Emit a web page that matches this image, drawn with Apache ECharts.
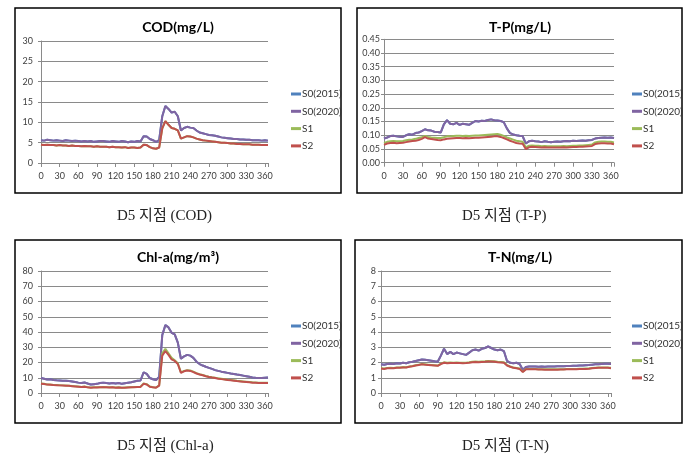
<!DOCTYPE html>
<html>
<head>
<meta charset="utf-8">
<script src="https://cdn.jsdelivr.net/npm/echarts@6/dist/echarts.min.js"></script>
<style>
html,body{margin:0;padding:0;background:#fff;}
#c{width:696px;height:467px;}
</style>
</head>
<body>
<div id="c"></div>
<script>
// ---------- DATA (day of year, 5-day readings) ----------
const days = Array.from({length: 74}, (_, i) => i * 5);
const seriesNames = ['S0(2015)', 'S0(2020)', 'S1', 'S2'];
const xTicks = [0, 30, 60, 90, 120, 150, 180, 210, 240, 270, 300, 330, 360];

// COD (mg/L)
const codS0_2015 = [5.6,5.5,5.7,5.6,5.5,5.6,5.5,5.4,5.6,5.5, 5.4,5.5,5.4,5.3,5.4,5.3,5.4,5.2,5.3,5.4, 5.4,5.3,5.2,5.4,5.3,5.2,5.4,5.3,5.1,5.3, 5.2,5.4,5.3,6.6,6.5,5.9,5.6,5.2,5.6,11.5, 14.0,13.3,12.4,12.6,11.5,8.0,8.6,8.9,8.7,8.6, 8.0,7.5,7.3,7.1,6.9,6.8,6.7,6.5,6.3,6.2, 6.1,6.0,5.9,5.9,5.8,5.8,5.7,5.7,5.6,5.6, 5.6,5.5,5.6,5.5];
const codS0_2020 = [5.6,5.5,5.7,5.6,5.5,5.6,5.5,5.4,5.6,5.5, 5.4,5.5,5.4,5.3,5.4,5.3,5.4,5.2,5.3,5.4, 5.4,5.3,5.2,5.4,5.3,5.2,5.4,5.3,5.1,5.3, 5.2,5.4,5.3,6.6,6.5,5.9,5.6,5.2,5.6,11.5, 14.0,13.3,12.4,12.6,11.5,8.0,8.6,8.9,8.7,8.6, 8.0,7.5,7.3,7.1,6.9,6.8,6.7,6.5,6.3,6.2, 6.1,6.0,5.9,5.9,5.8,5.8,5.7,5.7,5.6,5.6, 5.6,5.5,5.6,5.5];
const codS1 = [4.5,4.4,4.5,4.4,4.4,4.3,4.4,4.3,4.3,4.2, 4.3,4.2,4.2,4.1,4.2,4.1,4.1,4.0,4.1,4.0, 4.0,4.0,3.9,4.0,3.9,3.9,3.8,3.9,3.7,3.8, 3.8,3.7,3.8,4.5,4.4,3.9,3.6,3.5,3.8,8.5, 10.3,9.4,8.6,8.4,8.0,6.0,6.3,6.6,6.5,6.3, 6.0,5.8,5.6,5.5,5.4,5.3,5.2,5.1,5.0,5.0, 4.9,4.8,4.8,4.7,4.7,4.6,4.6,4.6,4.5,4.5, 4.5,4.4,4.4,4.4];
const codS2 = [4.5,4.4,4.5,4.4,4.4,4.3,4.4,4.3,4.3,4.2, 4.3,4.2,4.2,4.1,4.2,4.1,4.1,4.0,4.1,4.0, 4.0,4.0,3.9,4.0,3.9,3.9,3.8,3.9,3.7,3.8, 3.8,3.7,3.8,4.5,4.4,3.9,3.6,3.5,3.8,8.5, 10.3,9.4,8.6,8.4,8.0,6.0,6.3,6.6,6.5,6.3, 6.0,5.8,5.6,5.5,5.4,5.3,5.2,5.1,5.0,5.0, 4.9,4.8,4.8,4.7,4.7,4.6,4.6,4.6,4.5,4.5, 4.5,4.4,4.4,4.4];

// T-P (mg/L)
const tpS0_2015 = [.088,.092,.097,.098,.096,.095,.094,.100,.104,.102, .108,.110,.115,.122,.118,.117,.113,.112,.110,.140, .155,.142,.140,.145,.138,.142,.140,.138,.145,.152, .150,.153,.152,.156,.158,.155,.154,.152,.148,.125, .108,.103,.100,.098,.097,.070,.078,.080,.078,.077, .075,.078,.076,.075,.076,.077,.076,.078,.079,.078, .080,.079,.080,.081,.080,.082,.083,.088,.090,.091, .092,.091,.092,.090];
const tpS0_2020 = [.088,.092,.097,.098,.096,.095,.094,.100,.104,.102, .108,.110,.115,.122,.118,.117,.113,.112,.110,.140, .155,.142,.140,.145,.138,.142,.140,.138,.145,.152, .150,.153,.152,.156,.158,.155,.154,.152,.148,.125, .108,.103,.100,.098,.097,.070,.078,.080,.078,.077, .075,.078,.076,.075,.076,.077,.076,.078,.079,.078, .080,.079,.080,.081,.080,.082,.083,.088,.090,.091, .092,.091,.092,.090];
const tpS1 = [.072,.076,.078,.079,.078,.078,.079,.082,.084,.085, .087,.090,.093,.098,.094,.092,.091,.090,.090,.093, .096,.096,.097,.098,.098,.097,.098,.097,.098,.099, .099,.100,.101,.102,.103,.104,.105,.102,.098,.092, .088,.084,.080,.078,.076,.056,.062,.063,.062,.062, .060,.061,.060,.060,.060,.060,.060,.061,.060,.061, .062,.062,.063,.063,.064,.065,.066,.074,.076,.077, .077,.076,.076,.074];
const tpS2 = [.065,.070,.072,.073,.071,.072,.073,.075,.077,.079, .080,.083,.087,.093,.088,.086,.085,.083,.082,.085, .087,.088,.089,.090,.090,.089,.090,.089,.090,.091, .091,.092,.093,.094,.095,.096,.096,.094,.090,.085, .080,.076,.072,.070,.069,.050,.056,.058,.057,.056, .055,.056,.055,.055,.055,.055,.055,.056,.055,.056, .057,.057,.058,.058,.059,.060,.061,.068,.070,.071, .071,.070,.070,.067];

// Chl-a (mg/m3)
const chlS0_2015 = [9.8,9.3,8.8,9.0,8.5,8.3,8.2,8.0,8.1,7.8, 7.6,7.2,6.8,6.5,6.9,6.2,5.6,5.8,6.0,6.5, 6.8,6.5,6.3,6.6,6.2,6.5,6.0,6.4,6.8,7.0, 7.5,8.0,8.2,13.5,12.5,9.8,9.0,8.5,10.5,38.0, 44.5,43.0,39.5,38.5,33.0,22.5,24.0,25.0,24.5,23.0, 20.5,19.0,18.0,17.2,16.5,15.8,15.0,14.5,14.0,13.6, 13.2,12.8,12.5,12.1,11.8,11.4,11.0,10.6,10.2,10.0, 9.9,9.8,10.0,10.2];
const chlS0_2020 = [9.8,9.3,8.8,9.0,8.5,8.3,8.2,8.0,8.1,7.8, 7.6,7.2,6.8,6.5,6.9,6.2,5.6,5.8,6.0,6.5, 6.8,6.5,6.3,6.6,6.2,6.5,6.0,6.4,6.8,7.0, 7.5,8.0,8.2,13.5,12.5,9.8,9.0,8.5,10.5,38.0, 44.5,43.0,39.5,38.5,33.0,22.5,24.0,25.0,24.5,23.0, 20.5,19.0,18.0,17.2,16.5,15.8,15.0,14.5,14.0,13.6, 13.2,12.8,12.5,12.1,11.8,11.4,11.0,10.6,10.2,10.0, 9.9,9.8,10.0,10.2];
const chlS1 = [6.2,6.0,5.6,5.5,5.3,5.2,5.1,5.0,4.9,4.8, 4.6,4.4,4.2,4.0,4.2,3.8,3.6,3.7,3.7,3.8, 3.9,3.8,3.7,3.8,3.6,3.7,3.5,3.6,3.7,3.8, 3.9,4.0,4.1,6.2,5.8,4.2,3.8,3.6,5.0,26.0, 29.0,26.0,23.0,21.5,19.5,13.5,14.5,15.0,14.8,14.0, 13.0,12.3,11.8,11.2,10.7,10.3,10.0,9.6,9.3,9.0, 8.7,8.5,8.3,8.0,7.8,7.6,7.4,7.2,7.0,6.9, 6.8,6.7,6.7,6.8];
const chlS2 = [6.1,5.9,5.5,5.4,5.2,5.1,5.0,4.9,4.8,4.7, 4.5,4.3,4.1,3.9,4.1,3.7,3.5,3.6,3.6,3.7, 3.8,3.7,3.6,3.7,3.5,3.6,3.4,3.5,3.6,3.7, 3.8,3.9,4.0,6.0,5.6,4.1,3.7,3.5,4.8,24.5, 27.5,25.0,22.0,21.0,19.0,13.2,14.2,14.7,14.5,13.7, 12.8,12.1,11.6,11.0,10.5,10.1,9.8,9.4,9.1,8.8, 8.5,8.3,8.1,7.8,7.6,7.4,7.2,7.0,6.8,6.7, 6.6,6.5,6.5,6.6];

// T-N (mg/L)
const tnS0_2015 = [1.88,1.85,1.90,1.92,1.90,1.95,1.93,1.98,1.95,2.02, 2.05,2.10,2.15,2.20,2.18,2.15,2.12,2.08,2.05,2.45, 2.90,2.55,2.70,2.55,2.65,2.60,2.55,2.50,2.65,2.80, 2.85,2.78,2.90,2.95,3.05,2.95,2.85,2.80,2.85,2.75, 2.10,1.98,1.95,1.98,1.90,1.52,1.70,1.74,1.74,1.73, 1.72,1.73,1.72,1.73,1.74,1.74,1.75,1.75,1.76,1.77, 1.77,1.78,1.79,1.80,1.81,1.82,1.83,1.86,1.88,1.89, 1.90,1.91,1.91,1.90];
const tnS0_2020 = [1.88,1.85,1.90,1.92,1.90,1.95,1.93,1.98,1.95,2.02, 2.05,2.10,2.15,2.20,2.18,2.15,2.12,2.08,2.05,2.45, 2.90,2.55,2.70,2.55,2.65,2.60,2.55,2.50,2.65,2.80, 2.85,2.78,2.90,2.95,3.05,2.95,2.85,2.80,2.85,2.75, 2.10,1.98,1.95,1.98,1.90,1.52,1.70,1.74,1.74,1.73, 1.72,1.73,1.72,1.73,1.74,1.74,1.75,1.75,1.76,1.77, 1.77,1.78,1.79,1.80,1.81,1.82,1.83,1.86,1.88,1.89, 1.90,1.91,1.91,1.90];
const tnS1 = [1.62,1.60,1.64,1.65,1.64,1.67,1.68,1.70,1.69,1.74, 1.77,1.82,1.86,1.90,1.88,1.86,1.84,1.82,1.80,1.93, 2.01,1.98,2.00,1.99,2.00,1.99,1.98,1.99,2.01,2.05, 2.06,2.05,2.07,2.08,2.10,2.09,2.08,2.05,2.03,2.01, 1.83,1.74,1.67,1.64,1.60,1.40,1.57,1.58,1.58,1.57, 1.56,1.56,1.55,1.55,1.55,1.55,1.55,1.56,1.56,1.57, 1.57,1.58,1.58,1.59,1.59,1.60,1.61,1.64,1.66,1.67, 1.67,1.67,1.67,1.65];
const tnS2 = [1.60,1.58,1.62,1.63,1.62,1.65,1.66,1.68,1.67,1.72, 1.75,1.80,1.84,1.88,1.86,1.84,1.82,1.80,1.78,1.90, 1.98,1.95,1.97,1.96,1.97,1.96,1.95,1.96,1.98,2.02, 2.03,2.02,2.04,2.05,2.07,2.06,2.05,2.02,2.00,1.98, 1.80,1.72,1.65,1.62,1.58,1.38,1.55,1.56,1.56,1.55, 1.54,1.54,1.53,1.53,1.53,1.53,1.53,1.54,1.54,1.55, 1.55,1.56,1.56,1.57,1.57,1.58,1.59,1.62,1.64,1.65, 1.65,1.65,1.65,1.63];

const titles = ['COD(mg/L)', 'T-P(mg/L)', 'Chl-a(mg/m³)', 'T-N(mg/L)'];
const captions = ['D5 지점 (COD)', 'D5 지점 (T-P)', 'D5 지점 (Chl-a)', 'D5 지점 (T-N)'];
const yMax = [30, 0.45, 80, 8];
const yStep = [5, 0.05, 10, 1];
const yDecimals = [0, 2, 0, 0];
const panelData = [
  [codS0_2015, codS0_2020, codS1, codS2],
  [tpS0_2015, tpS0_2020, tpS1, tpS2],
  [chlS0_2015, chlS0_2020, chlS1, chlS2],
  [tnS0_2015, tnS0_2020, tnS1, tnS2]
];

// ---------- LAYOUT / STYLE ----------
const colors = ['#4F81BD', '#8064A2', '#9BBB59', '#C0504D'];
const layout = [
  {grid:{left:41, top:41, width:227, height:122}, box:[15,8,326,185], tx:178, ty:27, lx:286, ly:83, cx:117, cy:216, ym:8},
  {grid:{left:384, top:39.3, width:230, height:123.4}, box:[357,8,325,185], tx:520, ty:27, lx:627, ly:83, cx:462, cy:216, ym:4},
  {grid:{left:41, top:271, width:227, height:122}, box:[15,240,326,183], tx:178, ty:257, lx:286, ly:315, cx:117, cy:446, ym:8},
  {grid:{left:381, top:271, width:230, height:122}, box:[355,240,327,183], tx:520, ty:257, lx:627, ly:315, cx:462, cy:446, ym:5}
];
const gridColor = '#8a8a8a';
const labelFont = 'Lato, "Open Sans", sans-serif';

const grids = [], xAxes = [], yAxes = [], series = [], legends = [], graphics = [];
layout.forEach((L, p) => {
  grids.push(Object.assign({containLabel:false}, L.grid));
  xAxes.push({
    type:'value', gridIndex:p, min:0, max:365, interval:30,
    axisLine:{show:true, lineStyle:{color:gridColor, width:1}},
    axisTick:{show:true, length:4, lineStyle:{color:gridColor}},
    splitLine:{show:false},
    axisLabel:{fontSize:9, color:'#404040', fontFamily:labelFont, margin:9,
      formatter: v => (xTicks.indexOf(v) >= 0 ? String(v) : '')}
  });
  yAxes.push({
    type:'value', gridIndex:p, min:0, max:yMax[p], interval:yStep[p],
    axisLine:{show:true, lineStyle:{color:gridColor, width:1}},
    axisTick:{show:true, length:3, lineStyle:{color:gridColor}},
    splitLine:{show:true, lineStyle:{color:gridColor, width:1}},
    axisLabel:{fontSize:9, color:'#404040', fontFamily:labelFont, margin:L.ym,
      formatter: v => v.toFixed(yDecimals[p])}
  });
  panelData[p].forEach((arr, k) => {
    series.push({
      name: seriesNames[k], type:'line', xAxisIndex:p, yAxisIndex:p,
      data: days.map((d, i) => [d, arr[i]]),
      showSymbol:false, symbol:'none', smooth:false,
      lineStyle:{width:2, color:colors[k]}, itemStyle:{color:colors[k]},
      z: 2 + k
    });
  });
  legends.push({
    orient:'vertical', left:L.lx, top:L.ly, itemWidth:10, itemHeight:3, itemGap:5.3,
    icon:'rect', data:seriesNames, selectedMode:false,
    textStyle:{fontSize:10, color:'#333', fontFamily:labelFont, lineHeight:12, padding:[0,0,0,-4]}
  });
  graphics.push({
    type:'rect', shape:{x:L.box[0], y:L.box[1], width:L.box[2], height:L.box[3]},
    style:{fill:'none', stroke:'#000', lineWidth:1.5}, z:-1
  });
  graphics.push({
    type:'text', x:L.tx, y:L.ty,
    style:{text:titles[p], fill:'#000', font:'bold 14px Lato, "Open Sans", sans-serif', textAlign:'center', textVerticalAlign:'middle'}
  });
  graphics.push({
    type:'text', x:L.cx, y:L.cy,
    style:{text:captions[p], fill:'#222', font:'15px "Liberation Serif", "Noto Sans CJK KR", serif', textAlign:'left', textVerticalAlign:'middle'}
  });
});

const chart = echarts.init(document.getElementById('c'), null, {renderer:'canvas'});
chart.setOption({
  backgroundColor:'#fff',
  animation:false,
  color: colors,
  grid: grids, xAxis: xAxes, yAxis: yAxes, series: series,
  legend: legends, graphic: graphics
});
</script>
</body>
</html>
